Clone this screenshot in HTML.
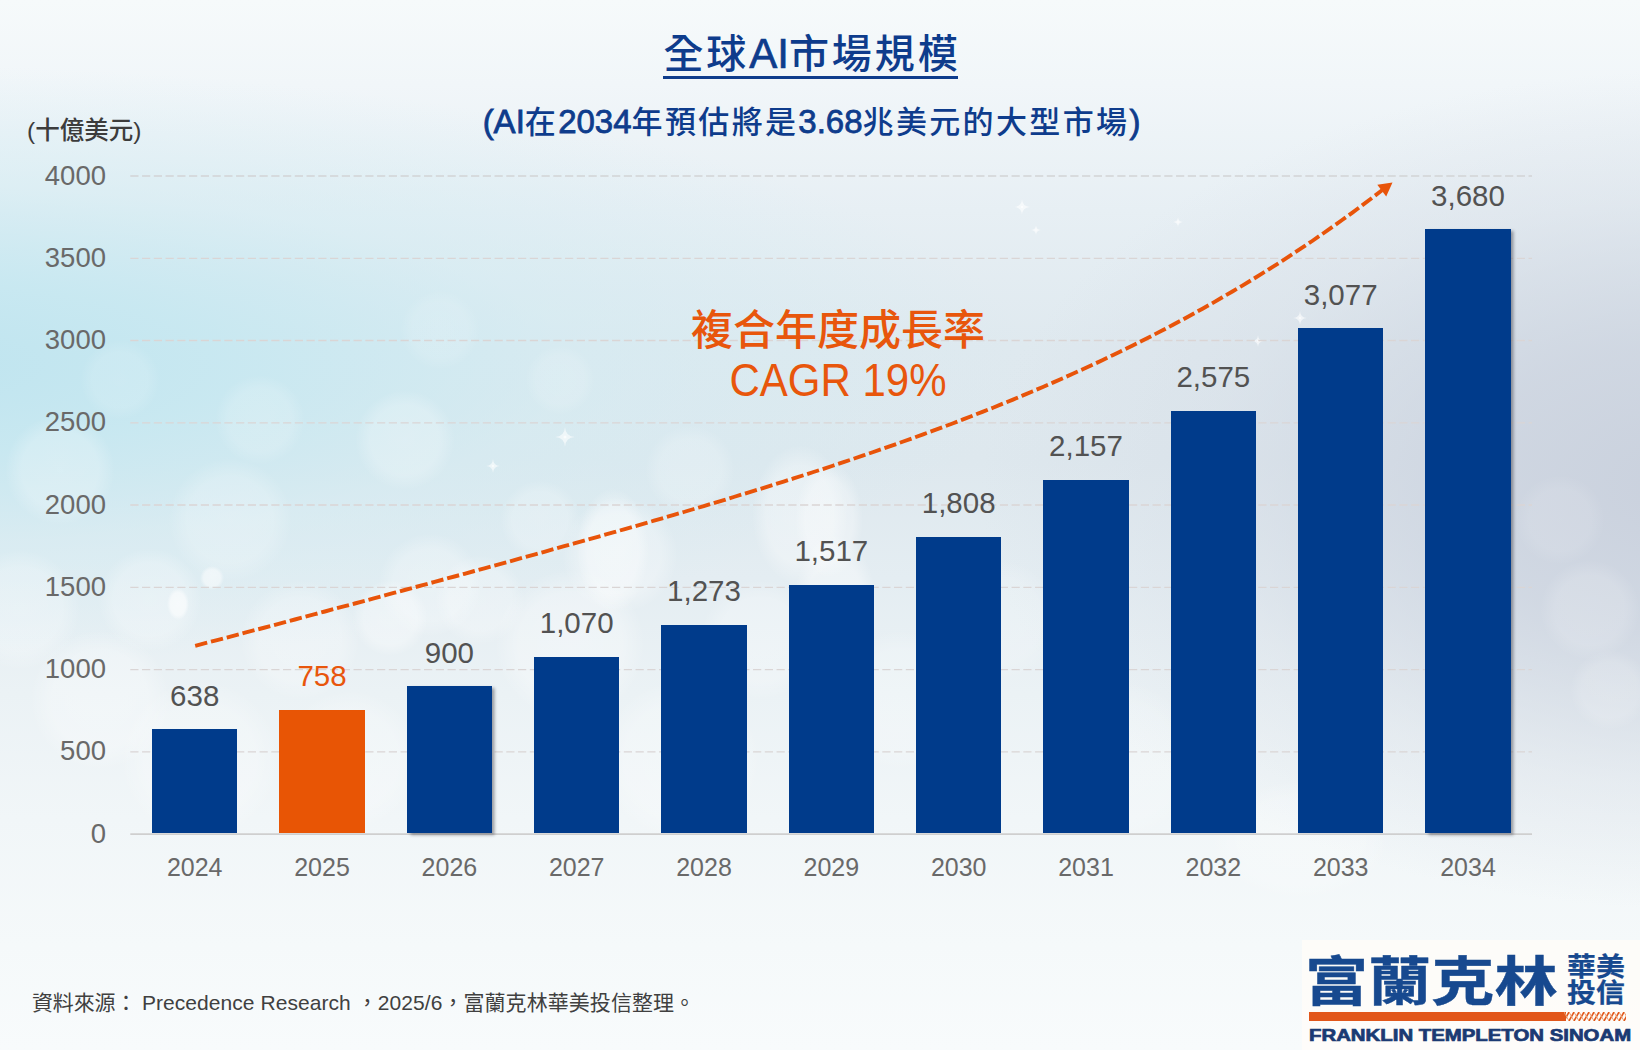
<!DOCTYPE html>
<html lang="zh-Hant">
<head>
<meta charset="utf-8">
<title>全球AI市場規模</title>
<style>
html,body{margin:0;padding:0;}
body{width:1640px;height:1050px;overflow:hidden;position:relative;
  font-family:"Liberation Sans","Noto Sans CJK TC",sans-serif;background:#f3f8fa;}
#bg{position:absolute;left:0;top:0;width:1640px;height:1050px;overflow:hidden;
  background:
    radial-gradient(ellipse 1150px 300px at -120px 365px, rgba(190,228,239,1) 0%, rgba(198,232,241,.9) 30%, rgba(208,236,243,.5) 60%, rgba(215,238,244,0) 100%),
    radial-gradient(ellipse 720px 420px at 1700px 490px, rgba(200,207,220,.95) 0%, rgba(204,211,223,.8) 35%, rgba(212,218,228,.35) 70%, rgba(218,223,231,0) 100%),
    linear-gradient(180deg,#f6fafb 0%,#f1f6f9 8%,#e7eff4 20%,#dfe9ef 33%,#dee8ee 44%,#e4edf2 55%,#ebf2f5 66%,#f1f6f8 78%,#f5f9fa 90%,#f8fbfc 100%);
}
.bk{position:absolute;border-radius:50%;background:radial-gradient(closest-side,rgba(255,255,255,.9) 0%,rgba(255,255,255,.8) 70%,rgba(255,255,255,0) 100%);}
.st{position:absolute;}
.abs{position:absolute;white-space:nowrap;}
#title{left:0;width:1624px;top:23.5px;text-align:center;font-size:40px;letter-spacing:2.9px;font-weight:500;color:#0e3c8c;line-height:60px;}
#title b{font-weight:400;font-size:42px;letter-spacing:0;-webkit-text-stroke:.7px #0e3c8c;}
#uline{position:absolute;left:663px;top:76px;width:295px;height:3px;background:#0e3c8c;}
#sub{left:0;width:1623px;top:99px;text-align:center;font-size:31px;letter-spacing:2.35px;font-weight:500;color:#0e3c8c;line-height:46px;}
#sub b{font-weight:400;font-size:33px;letter-spacing:0;-webkit-text-stroke:.8px #0e3c8c;}
#unit{left:27px;top:113px;font-size:24.5px;font-weight:500;color:#3c3c3c;line-height:36px;}
.yt{position:absolute;left:0;width:106px;text-align:right;font-size:27.5px;color:#696969;line-height:30px;height:30px;}
.xt{position:absolute;width:128px;text-align:center;font-size:25px;color:#696969;line-height:30px;top:852px;}
.dl{position:absolute;width:128px;text-align:center;font-size:29.5px;color:#525252;line-height:32px;}
.bar{position:absolute;background:#003b8b;width:85px;}
.bar.o{background:#e85505;}
.bar.sh{box-shadow:2.5px 2px 3px rgba(50,50,60,.45);}
#cagr{left:638px;width:400px;top:306px;text-align:center;color:#e8560c;font-size:42px;line-height:50px;font-weight:500;}
#cagr span{display:inline-block;transform-origin:50% 82%;transform:scaleY(1.12);position:relative;top:1px;}
#src{left:32px;top:988px;font-size:21px;letter-spacing:.06px;color:#404040;line-height:30px;}
#src i{font-style:normal;letter-spacing:-.15px;}
#logo{position:absolute;left:1302px;top:940px;width:338px;height:110px;background:rgba(255,253,249,.8);}
#lg1{position:absolute;left:3px;top:0.5px;font-family:"Noto Sans CJK TC",sans-serif;font-weight:700;-webkit-text-stroke:.45px #17498f;font-size:53.3px;line-height:74px;color:#17498f;white-space:nowrap;transform-origin:0 0;transform:scaleX(1.185);}
#lg2{position:absolute;left:265px;top:12px;font-family:"Noto Sans CJK TC",sans-serif;font-weight:700;-webkit-text-stroke:.25px #17498f;font-size:26.5px;line-height:26px;color:#17498f;white-space:nowrap;transform-origin:0 0;transform:scaleX(1.09);}
#lgbar{position:absolute;left:7px;top:72px;width:257px;height:9px;background:#e2571b;}
#lgpat{position:absolute;left:262px;top:72px;}
#lg3{position:absolute;left:7px;top:85px;font-weight:700;font-size:16.3px;line-height:20px;color:#1b3a73;white-space:nowrap;transform-origin:0 0;transform:scaleX(1.251);-webkit-text-stroke:.7px #1b3a73;}
</style>
</head>
<body>
<div id="bg">
<div class="bk" style="left:5px;top:415px;width:110px;height:110px;opacity:0.28"></div>
<div class="bk" style="left:168px;top:458px;width:124px;height:124px;opacity:0.25"></div>
<div class="bk" style="left:98px;top:548px;width:104px;height:104px;opacity:0.3"></div>
<div class="bk" style="left:167px;top:588px;width:22px;height:32px;opacity:0.7"></div>
<div class="bk" style="left:200px;top:566px;width:24px;height:24px;opacity:0.6"></div>
<div class="bk" style="left:378px;top:533px;width:104px;height:104px;opacity:0.3"></div>
<div class="bk" style="left:240px;top:580px;width:120px;height:120px;opacity:0.3"></div>
<div class="bk" style="left:30px;top:630px;width:140px;height:140px;opacity:0.35"></div>
<div class="bk" style="left:-40px;top:550px;width:120px;height:120px;opacity:0.3"></div>
<div class="bk" style="left:120px;top:680px;width:160px;height:160px;opacity:0.3"></div>
<div class="bk" style="left:495px;top:570px;width:150px;height:150px;opacity:0.38"></div>
<div class="bk" style="left:435px;top:555px;width:90px;height:90px;opacity:0.3"></div>
<div class="bk" style="left:355px;top:390px;width:100px;height:100px;opacity:0.28"></div>
<div class="bk" style="left:562px;top:497px;width:116px;height:116px;opacity:0.35"></div>
<div class="bk" style="left:645px;top:425px;width:90px;height:90px;opacity:0.22"></div>
<div class="bk" style="left:752px;top:445px;width:96px;height:140px;opacity:0.4"></div>
<div class="bk" style="left:793px;top:535px;width:84px;height:150px;opacity:0.45"></div>
<div class="bk" style="left:700px;top:580px;width:120px;height:120px;opacity:0.3"></div>
<div class="bk" style="left:500px;top:480px;width:80px;height:80px;opacity:0.25"></div>
<div class="bk" style="left:830px;top:630px;width:140px;height:140px;opacity:0.25"></div>
<div class="bk" style="left:940px;top:560px;width:120px;height:120px;opacity:0.2"></div>
<div class="bk" style="left:1040px;top:680px;width:160px;height:160px;opacity:0.2"></div>
<div class="bk" style="left:280px;top:690px;width:140px;height:140px;opacity:0.3"></div>
<div class="bk" style="left:600px;top:680px;width:160px;height:160px;opacity:0.3"></div>
<div class="bk" style="left:1210px;top:780px;width:180px;height:120px;opacity:0.25"></div>
<div class="bk" style="left:1540px;top:560px;width:100px;height:100px;opacity:0.18"></div>
<div class="bk" style="left:1570px;top:650px;width:80px;height:80px;opacity:0.18"></div>
<div class="bk" style="left:1515px;top:475px;width:90px;height:90px;opacity:0.12"></div>
<div class="bk" style="left:400px;top:290px;width:80px;height:80px;opacity:0.15"></div>
<div class="bk" style="left:525px;top:345px;width:70px;height:70px;opacity:0.15"></div>
<div class="bk" style="left:215px;top:375px;width:90px;height:90px;opacity:0.2"></div>
<div class="bk" style="left:80px;top:340px;width:80px;height:80px;opacity:0.15"></div>
<svg class="st" style="left:555px;top:427px" width="20" height="20" viewBox="-10 -10 20 20"><path d="M0-10Q.5-.5 10 0Q.5.5 0 10Q-.5.5-10 0Q-.5-.5 0-10Z" fill="#fff" opacity=".6"/><circle r="1.5" fill="#fff" opacity=".7"/></svg>
<svg class="st" style="left:486px;top:459px" width="14" height="14" viewBox="-10 -10 20 20"><path d="M0-10Q.5-.5 10 0Q.5.5 0 10Q-.5.5-10 0Q-.5-.5 0-10Z" fill="#fff" opacity=".6"/><circle r="1.5" fill="#fff" opacity=".7"/></svg>
<svg class="st" style="left:1014px;top:199px" width="16" height="16" viewBox="-10 -10 20 20"><path d="M0-10Q.5-.5 10 0Q.5.5 0 10Q-.5.5-10 0Q-.5-.5 0-10Z" fill="#fff" opacity=".6"/><circle r="1.5" fill="#fff" opacity=".7"/></svg>
<svg class="st" style="left:1293px;top:311px" width="14" height="14" viewBox="-10 -10 20 20"><path d="M0-10Q.5-.5 10 0Q.5.5 0 10Q-.5.5-10 0Q-.5-.5 0-10Z" fill="#fff" opacity=".6"/><circle r="1.5" fill="#fff" opacity=".7"/></svg>
<svg class="st" style="left:1252px;top:335px" width="12" height="12" viewBox="-10 -10 20 20"><path d="M0-10Q.5-.5 10 0Q.5.5 0 10Q-.5.5-10 0Q-.5-.5 0-10Z" fill="#fff" opacity=".6"/><circle r="1.5" fill="#fff" opacity=".7"/></svg>
<svg class="st" style="left:1173px;top:217px" width="10" height="10" viewBox="-10 -10 20 20"><path d="M0-10Q.5-.5 10 0Q.5.5 0 10Q-.5.5-10 0Q-.5-.5 0-10Z" fill="#fff" opacity=".6"/><circle r="1.5" fill="#fff" opacity=".7"/></svg>
<svg class="st" style="left:1031px;top:225px" width="10" height="10" viewBox="-10 -10 20 20"><path d="M0-10Q.5-.5 10 0Q.5.5 0 10Q-.5.5-10 0Q-.5-.5 0-10Z" fill="#fff" opacity=".6"/><circle r="1.5" fill="#fff" opacity=".7"/></svg>
<div class="bk" style="left:577px;top:488px;width:72px;height:124px;opacity:0.42"></div>
<div class="bk" style="left:795px;top:462px;width:68px;height:116px;opacity:0.38"></div>
<div class="bk" style="left:352px;top:580px;width:76px;height:76px;opacity:0.4"></div>
</div>

<div id="title" class="abs">全球<b>AI</b>市場規模</div><div id="uline"></div>
<div id="sub" class="abs"><b>(AI</b>在<b>2034</b>年預估將是<b>3.68</b>兆美元的大型市場<b>)</b></div>
<div id="unit" class="abs">(十億美元)</div>

<svg class="abs" style="left:0;top:0" width="1640" height="1050" viewBox="0 0 1640 1050">
  <g stroke-width="1.3" stroke-dasharray="8.2 3.55" fill="none">
    <path d="M130.3 176.0H1532" stroke="#d2d4d5"/>
    <path d="M130.3 258.3H1532M130.3 340.5H1532M130.3 422.8H1532M130.3 505.0H1532M130.3 587.3H1532M130.3 669.6H1532M130.3 751.8H1532" stroke="#dad5d5"/>
  </g>
  <path d="M130.3 834.1H1532" stroke="#cfcfcf" stroke-width="1.6" fill="none"/>
</svg>

<div id="bars">
<div class="bar" style="left:152.0px;top:729.2px;width:85.4px;height:104.1px"></div>
<div class="dl" style="left:130.7px;top:679.7px">638</div>
<div class="xt" style="left:130.7px">2024</div>
<div class="bar o" style="left:279.3px;top:709.5px;width:85.4px;height:123.8px"></div>
<div class="dl" style="left:258.0px;top:660.0px;color:#e8560c">758</div>
<div class="xt" style="left:258.0px">2025</div>
<div class="bar sh" style="left:406.7px;top:686.1px;width:85.4px;height:147.2px"></div>
<div class="dl" style="left:385.4px;top:636.6px">900</div>
<div class="xt" style="left:385.4px">2026</div>
<div class="bar" style="left:534.0px;top:656.7px;width:85.4px;height:176.6px"></div>
<div class="dl" style="left:512.7px;top:607.2px">1,070</div>
<div class="xt" style="left:512.7px">2027</div>
<div class="bar" style="left:661.3px;top:624.8px;width:85.4px;height:208.5px"></div>
<div class="dl" style="left:640.0px;top:575.3px">1,273</div>
<div class="xt" style="left:640.0px">2028</div>
<div class="bar" style="left:788.6px;top:584.7px;width:85.4px;height:248.6px"></div>
<div class="dl" style="left:767.3px;top:535.2px">1,517</div>
<div class="xt" style="left:767.3px">2029</div>
<div class="bar" style="left:916.0px;top:536.9px;width:85.4px;height:296.4px"></div>
<div class="dl" style="left:894.7px;top:487.4px">1,808</div>
<div class="xt" style="left:894.7px">2030</div>
<div class="bar" style="left:1043.3px;top:479.5px;width:85.4px;height:353.8px"></div>
<div class="dl" style="left:1022.0px;top:430.0px">2,157</div>
<div class="xt" style="left:1022.0px">2031</div>
<div class="bar" style="left:1170.6px;top:410.8px;width:85.4px;height:422.5px"></div>
<div class="dl" style="left:1149.3px;top:361.3px">2,575</div>
<div class="xt" style="left:1149.3px">2032</div>
<div class="bar" style="left:1298.0px;top:328.2px;width:85.4px;height:505.1px"></div>
<div class="dl" style="left:1276.7px;top:278.7px">3,077</div>
<div class="xt" style="left:1276.7px">2033</div>
<div class="bar sh" style="left:1425.3px;top:229.1px;width:85.4px;height:604.2px"></div>
<div class="dl" style="left:1404.0px;top:179.6px">3,680</div>
<div class="xt" style="left:1404.0px">2034</div>
<div class="yt" style="top:818.6px">0</div>
<div class="yt" style="top:736.3px">500</div>
<div class="yt" style="top:654.1px">1000</div>
<div class="yt" style="top:571.8px">1500</div>
<div class="yt" style="top:489.6px">2000</div>
<div class="yt" style="top:407.3px">2500</div>
<div class="yt" style="top:325.0px">3000</div>
<div class="yt" style="top:242.8px">3500</div>
<div class="yt" style="top:160.5px">4000</div>
</div><!--/bars-->

<svg class="abs" style="left:0;top:0" width="1640" height="1050" viewBox="0 0 1640 1050">
  <path d="M195.2 645.8 L205.2 643.2 L215.1 640.6 L225.1 638.0 L235.1 635.4 L245.1 632.7 L255.0 630.1 L265.0 627.5 L275.0 624.8 L285.0 622.2 L294.9 619.5 L304.9 616.9 L314.9 614.2 L324.9 611.5 L334.8 608.8 L344.8 606.2 L354.8 603.5 L364.7 600.8 L374.7 598.1 L384.7 595.4 L394.7 592.7 L404.6 590.0 L414.6 587.3 L424.6 584.6 L434.6 581.9 L444.5 579.2 L454.5 576.5 L464.5 573.8 L474.4 571.0 L484.4 568.3 L494.4 565.6 L504.4 562.8 L514.3 560.1 L524.3 557.3 L534.3 554.6 L544.3 551.8 L554.2 549.0 L564.2 546.2 L574.2 543.4 L584.2 540.6 L594.1 537.8 L604.1 535.0 L614.1 532.2 L624.0 529.3 L634.0 526.5 L644.0 523.6 L654.0 520.7 L663.9 517.8 L673.9 514.9 L683.9 512.0 L693.9 509.0 L703.8 506.1 L713.8 503.1 L723.8 500.1 L733.7 497.0 L743.7 494.0 L753.7 490.9 L763.7 487.9 L773.6 484.7 L783.6 481.6 L793.6 478.4 L803.6 475.2 L813.5 472.0 L823.5 468.8 L833.5 465.5 L843.5 462.2 L853.4 458.8 L863.4 455.4 L873.4 452.0 L883.3 448.6 L893.3 445.1 L903.3 441.5 L913.3 438.0 L923.2 434.3 L933.2 430.7 L943.2 427.0 L953.2 423.2 L963.1 419.4 L973.1 415.5 L983.1 411.6 L993.0 407.7 L1003.0 403.6 L1013.0 399.6 L1023.0 395.4 L1032.9 391.2 L1042.9 387.0 L1052.9 382.6 L1062.9 378.2 L1072.8 373.8 L1082.8 369.3 L1092.8 364.7 L1102.8 360.0 L1112.7 355.2 L1122.7 350.4 L1132.7 345.5 L1142.6 340.5 L1152.6 335.4 L1162.6 330.3 L1172.6 325.0 L1182.5 319.7 L1192.5 314.2 L1202.5 308.7 L1212.5 303.1 L1222.4 297.3 L1232.4 291.5 L1242.4 285.6 L1252.3 279.6 L1262.3 273.4 L1272.3 267.2 L1282.3 260.8 L1292.2 254.3 L1302.2 247.7 L1312.2 241.0 L1322.2 234.1 L1332.1 227.1 L1342.1 220.0 L1352.1 212.8 L1362.1 205.4 L1372.0 197.9 L1382.0 190.3" stroke="#e8540a" stroke-width="3.9" stroke-dasharray="12.4 3.9" stroke-linejoin="round" fill="none"/>
  <path d="M1392.5 182.4 L1386.2 196.4 L1377.3 184.8 Z" fill="#e8540a"/>
</svg>

<div id="cagr" class="abs">複合年度成長率<br><span>CAGR 19%</span></div>
<div id="src" class="abs"><i>資料來源： </i>Precedence Research ，2025/6，富蘭克林華美投信整理。</div>

<div id="logo">
  <div id="lg1">富蘭克林</div>
  <div id="lg2">華美<br>投信</div>
  <div id="lgbar"></div>
  <svg id="lgpat" width="62" height="9" viewBox="0 0 62 9"><defs><pattern id="zz" width="5" height="9" patternUnits="userSpaceOnUse"><path d="M0 9L5 0M-2.5 4.5L2.5 -4.5M2.5 13.5L7.5 4.5" stroke="#e2571b" stroke-width="1.6"/><path d="M0 0L5 9" stroke="#e9a070" stroke-width="1"/></pattern></defs><rect width="62" height="9" fill="url(#zz)"/></svg>
  <div id="lg3">FRANKLIN TEMPLETON SINOAM</div>
</div>
</body>
</html>
